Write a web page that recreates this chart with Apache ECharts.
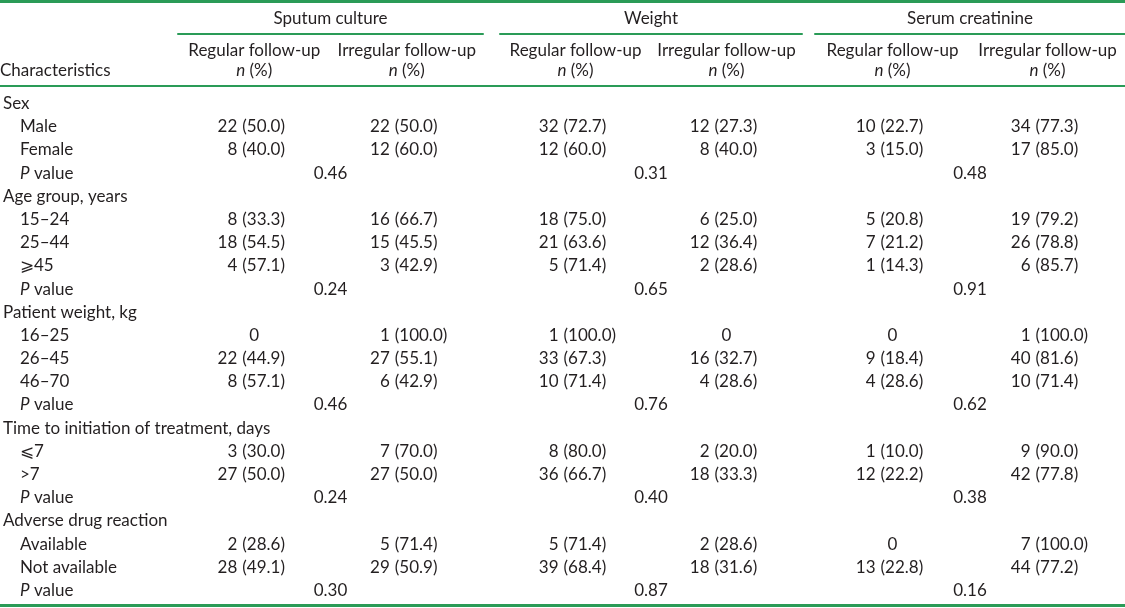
<!DOCTYPE html>
<html>
<head>
<meta charset="utf-8">
<script src="https://cdn.jsdelivr.net/npm/echarts@6/dist/echarts.min.js"></script>
<style>
html,body{margin:0;padding:0;background:#fff;}
#chart{width:1125px;height:608px;}
</style>
</head>
<body>
<div id="chart"></div>
<script>
// ---------- data ----------
const groups = ['Sputum culture', 'Weight', 'Serum creatinine'];
const subColumns = ['Regular follow-up', 'Irregular follow-up'];
const sections = ['Sex', 'Age group, years', 'Patient weight, kg', 'Time to initiation of treatment, days', 'Adverse drug reaction'];
const subgroups = [
  ['Male', 'Female'],
  ['15–24', '25–44', '⩾45'],
  ['16–25', '26–45', '46–70'],
  ['⩽7', '>7'],
  ['Available', 'Not available']
];
// [n, %] for each subgroup row, in order
const sputumRegular   = [[22,50.0],[8,40.0],[8,33.3],[18,54.5],[4,57.1],[0,null],[22,44.9],[8,57.1],[3,30.0],[27,50.0],[2,28.6],[28,49.1]];
const sputumIrregular = [[22,50.0],[12,60.0],[16,66.7],[15,45.5],[3,42.9],[1,100.0],[27,55.1],[6,42.9],[7,70.0],[27,50.0],[5,71.4],[29,50.9]];
const weightRegular   = [[32,72.7],[12,60.0],[18,75.0],[21,63.6],[5,71.4],[1,100.0],[33,67.3],[10,71.4],[8,80.0],[36,66.7],[5,71.4],[39,68.4]];
const weightIrregular = [[12,27.3],[8,40.0],[6,25.0],[12,36.4],[2,28.6],[0,null],[16,32.7],[4,28.6],[2,20.0],[18,33.3],[2,28.6],[18,31.6]];
const serumRegular    = [[10,22.7],[3,15.0],[5,20.8],[7,21.2],[1,14.3],[0,null],[9,18.4],[4,28.6],[1,10.0],[12,22.2],[0,null],[13,22.8]];
const serumIrregular  = [[34,77.3],[17,85.0],[19,79.2],[26,78.8],[6,85.7],[1,100.0],[40,81.6],[10,71.4],[9,90.0],[42,77.8],[7,100.0],[44,77.2]];
const sputumP = [0.46, 0.24, 0.46, 0.24, 0.30];
const weightP = [0.31, 0.65, 0.76, 0.40, 0.87];
const serumP  = [0.48, 0.91, 0.62, 0.38, 0.16];

// ---------- build ----------
const INK = '#231f20';
const GREEN = '#2a9b57';
const FONT = 'Lato, "Open Sans", sans-serif';
const FS = 17;

const rows = [];
const rowKind = []; // 'h' header, 's' subgroup, 'p' p value
const subRowIndex = [];
const pRowIndex = [];
sections.forEach((s, k) => {
  rows.push(s); rowKind.push('h');
  subgroups[k].forEach(g => { subRowIndex.push(rows.length); rows.push(g); rowKind.push('s'); });
  pRowIndex.push(rows.length); rows.push('P value'); rowKind.push('p');
});

const columnData = [[sputumRegular, sputumIrregular], [weightRegular, weightIrregular], [serumRegular, serumIrregular]];
const pData = [sputumP, weightP, serumP];

const gridLeft = [175, 500, 815];
const gridWidth = [308, 302, 310];

function buildSeriesData(k) {
  const out = [];
  columnData[k].forEach((col, j) => {
    col.forEach((cell, r) => {
      out.push([j, subRowIndex[r], cell[0], cell[1] == null ? -1 : cell[1], 0]);
    });
  });
  pData[k].forEach((p, r) => out.push([0, pRowIndex[r], p, -1, 1]));
  return out;
}

function textEl(text, x, y, align, italic) {
  return {
    type: 'text',
    style: {
      text: text, x: x, y: y, textAlign: align, textVerticalAlign: 'middle',
      fill: INK, fontSize: FS, fontFamily: FONT, fontStyle: italic ? 'italic' : 'normal'
    }
  };
}

function renderItem(params, api) {
  const col = api.value(0), row = api.value(1);
  const n = api.value(2), pct = api.value(3), kind = api.value(4);
  if (kind === 1) {
    const a = api.coord([0, row]), b = api.coord([1, row]);
    return textEl(n.toFixed(2), (a[0] + b[0]) / 2, a[1], 'center');
  }
  const c = api.coord([col, row]);
  if (pct < 0) {
    return textEl(String(n), c[0], c[1], 'center');
  }
  return {
    type: 'group',
    children: [
      textEl(String(n), c[0] - 17, c[1], 'right'),
      textEl('(' + pct.toFixed(1) + ')', c[0] - 12, c[1], 'left')
    ]
  };
}

const richBase = { color: INK, fontSize: FS, fontFamily: FONT };

const option = {
  animation: false,
  backgroundColor: '#ffffff',
  title: {
    text: 'Characteristics', left: 0, top: 62, padding: 0,
    textStyle: { color: INK, fontSize: FS, fontWeight: 'normal', fontFamily: FONT }
  },
  grid: groups.map((g, k) => ({ left: gridLeft[k], width: gridWidth[k], top: 92, height: 510 })),
  xAxis: groups.map((g, k) => ({
    type: 'category', gridIndex: k, position: 'top', offset: 58,
    data: subColumns,
    name: g, nameLocation: 'middle', nameGap: 7,
    nameTextStyle: { color: INK, fontSize: FS, fontFamily: FONT },
    axisLine: { show: true, lineStyle: { color: GREEN, width: 2 } },
    axisTick: { show: false },
    splitLine: { show: false },
    axisLabel: {
      inside: true, margin: 7, interval: 0,
      formatter: v => '{h|' + v + '}\n{i|n}{h| (%)}',
      rich: {
        h: Object.assign({ lineHeight: 20 }, richBase),
        i: Object.assign({ lineHeight: 20, fontStyle: 'italic' }, richBase)
      }
    }
  })),
  yAxis: groups.map((g, k) => ({
    type: 'category', gridIndex: k, inverse: true, data: rows,
    show: k === 0,
    axisLine: { show: false }, axisTick: { show: false }, splitLine: { show: false },
    axisLabel: {
      show: k === 0, align: 'left', margin: 175, interval: 0,
      formatter: (v, i) => {
        const kind = rowKind[i];
        if (kind === 'h') return '{h|' + v + '}';
        if (kind === 'p') return '{ind| }{i|P}{h| value}';
        return '{ind| }{h|' + v + '}';
      },
      rich: {
        h: Object.assign({}, richBase),
        i: Object.assign({ fontStyle: 'italic' }, richBase),
        ind: Object.assign({ width: 17 }, richBase)
      }
    }
  })),
  series: groups.map((g, k) => ({
    type: 'custom', name: g, xAxisIndex: k, yAxisIndex: k,
    silent: true, clip: false,
    encode: { x: 0, y: 1 },
    data: buildSeriesData(k),
    renderItem: renderItem
  })),
  graphic: [
    { type: 'line', shape: { x1: 0, y1: 1.5, x2: 1125, y2: 1.5 }, style: { stroke: GREEN, lineWidth: 3 } },
    { type: 'line', shape: { x1: 0, y1: 86, x2: 1125, y2: 86 }, style: { stroke: GREEN, lineWidth: 2 } },
    { type: 'line', shape: { x1: 0, y1: 605.5, x2: 1125, y2: 605.5 }, style: { stroke: GREEN, lineWidth: 3 } }
  ]
};

const chart = echarts.init(document.getElementById('chart'), null, { renderer: 'canvas' });
chart.setOption(option);
</script>
</body>
</html>
